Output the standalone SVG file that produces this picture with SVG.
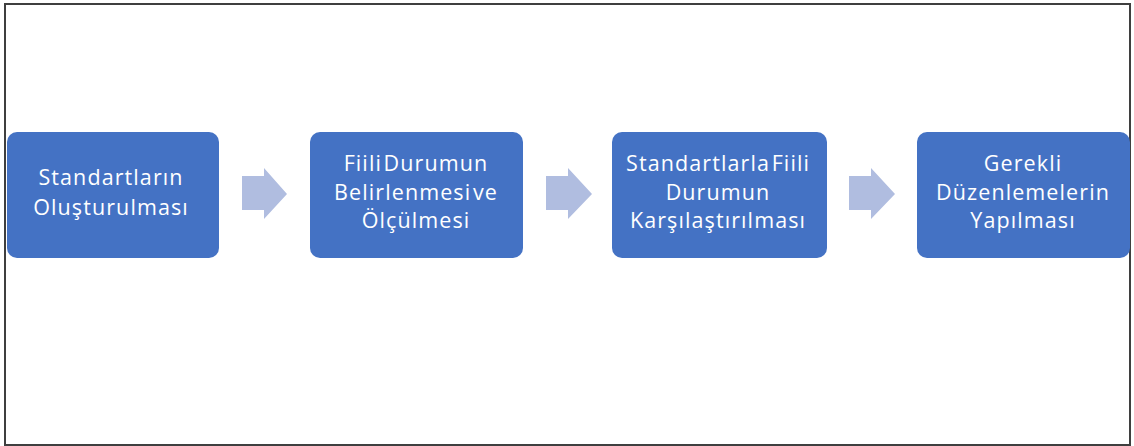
<svg xmlns="http://www.w3.org/2000/svg" width="1134" height="446" viewBox="0 0 1134 446">
  <defs>
    <style>
      .box { fill: #4472C4; }
      .arrow { fill: #B0BDE0; }
      .label { fill: #FFFFFF; font-family: "Open Sans", "Liberation Sans", sans-serif; font-size: 21.5px; letter-spacing: 1.1px; word-spacing: -5px; text-anchor: middle; }
    </style>
  </defs>
  <rect x="0" y="0" width="1134" height="446" fill="#FFFFFF"/>
  <!-- outer frame -->
  <rect x="5" y="4" width="1125" height="441" fill="none" stroke="#3F3F3F" stroke-width="2"/>

  <g id="connectors">
    <polygon class="arrow" points="242,176 264,176 264,168 287,194 264,219 264,210 242,210"/>
    <polygon class="arrow" points="546,176 568,176 568,168 592,194 568,219 568,210 546,210"/>
    <polygon class="arrow" points="849,176 871,176 871,168 895,194 871,219 871,210 849,210"/>
  </g>

  <g id="node1">
    <rect class="box" x="7" y="132" width="212" height="126" rx="10"/>
    <text class="label" x="111" y="185">Standartların</text>
    <text class="label" x="111" y="215">Oluşturulması</text>
  </g>

  <g id="node2">
    <rect class="box" x="310" y="132" width="213" height="126" rx="10"/>
    <text class="label" x="416" y="171">Fiili Durumun</text>
    <text class="label" x="416" y="200">Belirlenmesi ve</text>
    <text class="label" x="416" y="228">Ölçülmesi</text>
  </g>

  <g id="node3">
    <rect class="box" x="612" y="132" width="215" height="126" rx="10"/>
    <text class="label" x="718" y="171">Standartlarla Fiili</text>
    <text class="label" x="718" y="200">Durumun</text>
    <text class="label" x="718" y="228">Karşılaştırılması</text>
  </g>

  <g id="node4">
    <rect class="box" x="917" y="132" width="213" height="126" rx="10"/>
    <text class="label" x="1023" y="171">Gerekli</text>
    <text class="label" x="1023" y="200">Düzenlemelerin</text>
    <text class="label" x="1023" y="228">Yapılması</text>
  </g>
</svg>
